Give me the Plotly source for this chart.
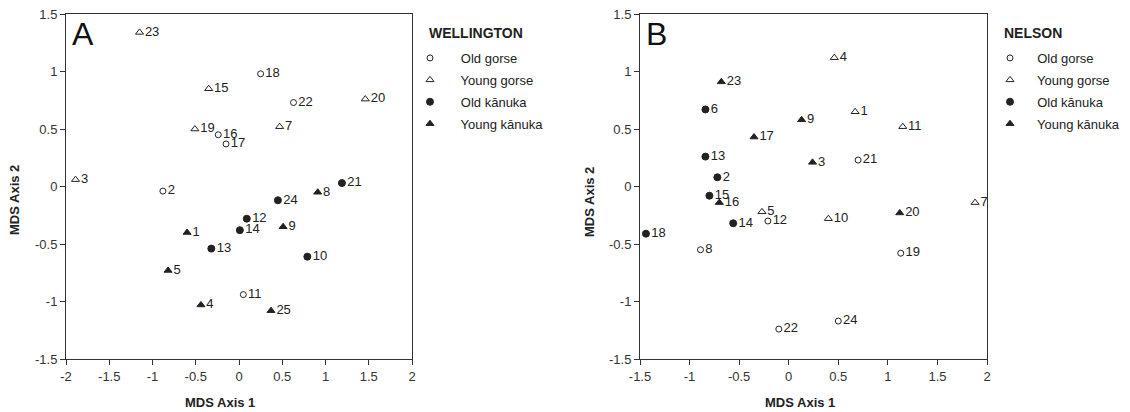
import plotly.graph_objects as go

# ---------------- data ----------------
groups = ["Old gorse", "Young gorse", "Old kānuka", "Young kānuka"]

# Wellington
w_og_id = ["2", "11", "16", "17", "18", "22"]
w_og_x = [-0.88, 0.05, -0.24, -0.15, 0.25, 0.63]
w_og_y = [-0.04, -0.94, 0.45, 0.37, 0.98, 0.73]

w_yg_id = ["3", "7", "15", "19", "20", "23"]
w_yg_x = [-1.89, 0.47, -0.35, -0.51, 1.46, -1.15]
w_yg_y = [0.06, 0.52, 0.85, 0.50, 0.76, 1.34]

w_ok_id = ["10", "12", "13", "14", "21", "24"]
w_ok_x = [0.79, 0.09, -0.32, 0.01, 1.19, 0.45]
w_ok_y = [-0.61, -0.28, -0.54, -0.38, 0.03, -0.12]

w_yk_id = ["1", "4", "5", "8", "9", "25"]
w_yk_x = [-0.60, -0.44, -0.82, 0.91, 0.51, 0.37]
w_yk_y = [-0.40, -1.03, -0.73, -0.05, -0.35, -1.08]

# Nelson
n_og_id = ["8", "12", "19", "21", "22", "24"]
n_og_x = [-0.89, -0.21, 1.13, 0.70, -0.10, 0.50]
n_og_y = [-0.55, -0.30, -0.58, 0.23, -1.24, -1.17]

n_yg_id = ["1", "4", "5", "7", "10", "11"]
n_yg_x = [0.67, 0.46, -0.27, 1.88, 0.40, 1.15]
n_yg_y = [0.65, 1.12, -0.22, -0.14, -0.28, 0.52]

n_ok_id = ["2", "6", "13", "14", "15", "18"]
n_ok_x = [-0.72, -0.84, -0.84, -0.56, -0.80, -1.44]
n_ok_y = [0.08, 0.67, 0.26, -0.32, -0.08, -0.41]

n_yk_id = ["3", "9", "16", "17", "20", "23"]
n_yk_x = [0.24, 0.13, -0.70, -0.35, 1.12, -0.68]
n_yk_y = [0.21, 0.58, -0.14, 0.43, -0.23, 0.91]

y_ticks = [-1.5, -1, -0.5, 0, 0.5, 1, 1.5]
y_tick_text = ["-1.5", "-1", "-0.5", "0", "0.5", "1", "1.5"]
xw_ticks = [-2, -1.5, -1, -0.5, 0, 0.5, 1, 1.5, 2]
xw_tick_text = ["-2", "-1.5", "-1", "-0.5", "0", "0.5", "1", "1.5", "2"]
xn_ticks = [-1.5, -1, -0.5, 0, 0.5, 1, 1.5, 2]
xn_tick_text = ["-1.5", "-1", "-0.5", "0", "0.5", "1", "1.5", "2"]

# ---------------- layout helpers ----------------
# the page body has an 8px margin, so the figure sits at (8, 8)
OFF = 8
W, H = 1130 - OFF, 412 - OFF


def px(xpix):
    return (xpix - OFF) / W


def py(ypix):
    return 1 - (ypix - OFF) / H


INK = "#222222"
FONT = "Liberation Sans, Arial, sans-serif"
styles = {
    "Old gorse": dict(symbol="circle-open", size=6),
    "Young gorse": dict(symbol="triangle-up-open", size=7),
    "Old kānuka": dict(symbol="circle", size=7),
    "Young kānuka": dict(symbol="triangle-up", size=7),
}

fig = go.Figure()

wel = [(w_og_id, w_og_x, w_og_y), (w_yg_id, w_yg_x, w_yg_y),
       (w_ok_id, w_ok_x, w_ok_y), (w_yk_id, w_yk_x, w_yk_y)]
nel = [(n_og_id, n_og_x, n_og_y), (n_yg_id, n_yg_x, n_yg_y),
       (n_ok_id, n_ok_x, n_ok_y), (n_yk_id, n_yk_x, n_yk_y)]

for panel, data, xa, ya, leg, pad in [("W", wel, "x", "y", "legend", "   "),
                                      ("N", nel, "x2", "y2", "legend2", "  ")]:
    for g, (ids, xs, ys) in zip(groups, data):
        st = styles[g]
        fig.add_trace(go.Scatter(
            x=xs, y=ys, text=ids, mode="markers+text",
            textposition="middle right",
            textfont=dict(family=FONT, size=13, color=INK),
            marker=dict(symbol=st["symbol"], size=st["size"], color=INK,
                        line=dict(color=INK, width=1)),
            name=pad + g, xaxis=xa, yaxis=ya, legend=leg,
            legendgroup=panel + g, cliponaxis=False,
        ))

axis_common = dict(
    showgrid=False, zeroline=False, showline=True, linecolor="#333333",
    linewidth=1, mirror=True, ticks="outside", ticklen=5, tickcolor="#333333",
    automargin=False, ticklabeloverflow="allow",
    tickfont=dict(family=FONT, size=13, color="#333333"),
)

ytop = py(14)
ybot = py(359)

fig.update_layout(
    width=W, height=H,
    margin=dict(l=0, r=0, t=0, b=0, autoexpand=False),
    paper_bgcolor="white", plot_bgcolor="white",
    showlegend=True,
    xaxis=dict(domain=[px(66), px(412)], range=[-2, 2],
               tickvals=xw_ticks, ticktext=xw_tick_text, anchor="y", **axis_common),
    yaxis=dict(domain=[ybot, ytop], range=[-1.5, 1.5],
               tickvals=y_ticks, ticktext=y_tick_text, anchor="x", **axis_common),
    xaxis2=dict(domain=[px(640), px(987)], range=[-1.5, 2],
                tickvals=xn_ticks, ticktext=xn_tick_text, anchor="y2", **axis_common),
    yaxis2=dict(domain=[ybot, ytop], range=[-1.5, 1.5],
                tickvals=y_ticks, ticktext=y_tick_text, anchor="x2", **axis_common),
    legend=dict(x=px(410), y=py(43), xanchor="left", yanchor="top",
                bgcolor="rgba(0,0,0,0)", tracegroupgap=2,
                font=dict(family=FONT, size=13, color=INK)),
    legend2=dict(x=px(990), y=py(43), xanchor="left", yanchor="top",
                 bgcolor="rgba(0,0,0,0)", tracegroupgap=2,
                 font=dict(family=FONT, size=13, color=INK)),
)

ann = []
# legend titles
ann.append(dict(text="<b>WELLINGTON</b>", x=px(427), y=py(33), xref="paper", yref="paper",
                xanchor="left", yanchor="middle", showarrow=False,
                font=dict(family=FONT, size=14, color=INK)))
ann.append(dict(text="<b>NELSON</b>", x=px(1002), y=py(33), xref="paper", yref="paper",
                xanchor="left", yanchor="middle", showarrow=False,
                font=dict(family=FONT, size=14, color=INK)))
# panel letters
ann.append(dict(text="A", x=px(70), y=py(34), xref="paper", yref="paper",
                xanchor="left", yanchor="middle", showarrow=False,
                font=dict(family=FONT, size=32, color="#111111")))
ann.append(dict(text="B", x=px(644), y=py(34), xref="paper", yref="paper",
                xanchor="left", yanchor="middle", showarrow=False,
                font=dict(family=FONT, size=32, color="#111111")))
# axis titles
for cx, cy in [(220, 402), (800, 402)]:
    ann.append(dict(text="<b>MDS Axis 1</b>", x=px(cx), y=py(cy), xref="paper", yref="paper",
                    xanchor="center", yanchor="middle", showarrow=False,
                    font=dict(family=FONT, size=13, color=INK)))
for cx, cy in [(14, 200), (589, 202)]:
    ann.append(dict(text="<b>MDS Axis 2</b>", x=px(cx), y=py(cy), xref="paper", yref="paper",
                    xanchor="center", yanchor="middle", showarrow=False, textangle=-90,
                    borderpad=0,
                    font=dict(family=FONT, size=13, color=INK)))
fig.update_layout(annotations=ann)

fig.write_html("out.html")
